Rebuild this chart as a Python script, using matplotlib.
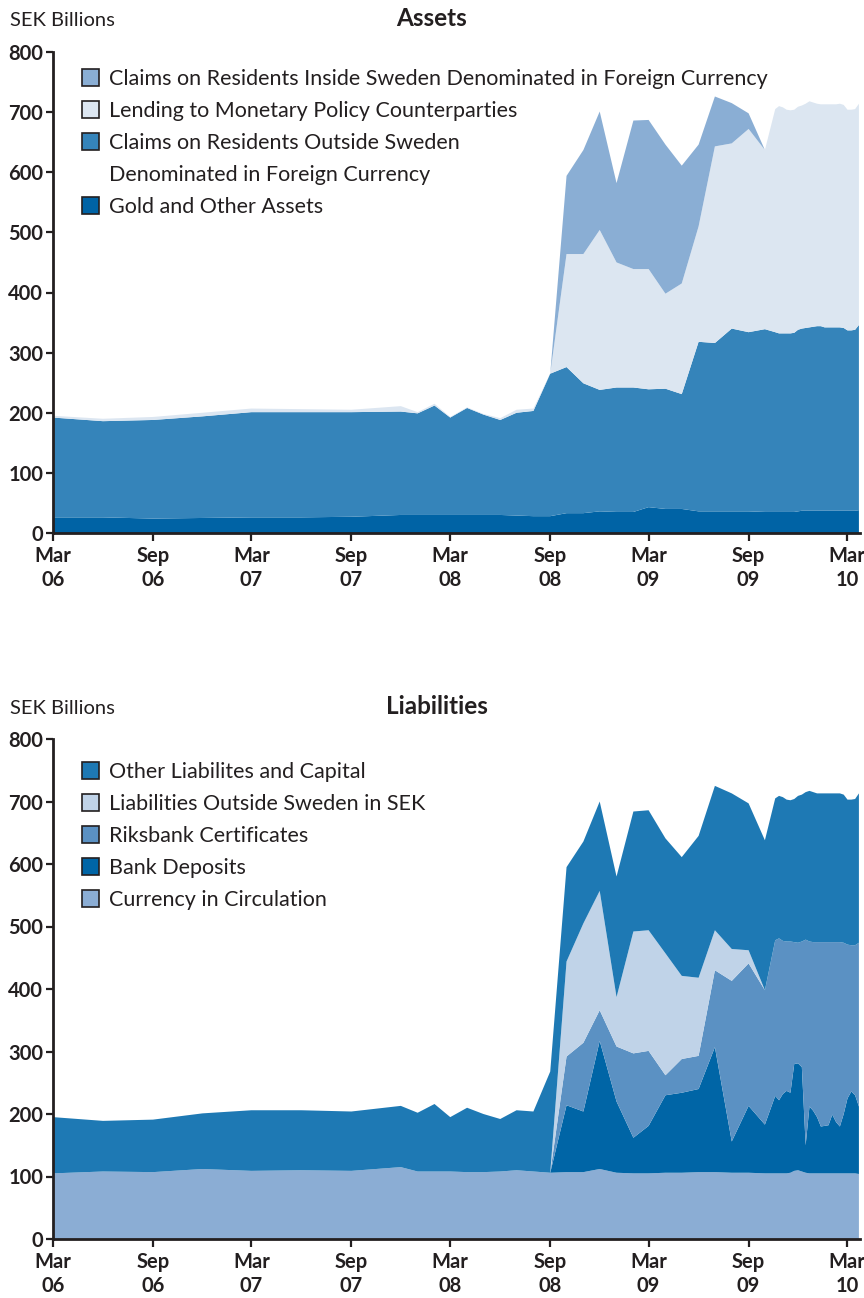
import matplotlib
matplotlib.use("Agg")
import matplotlib.pyplot as plt
import matplotlib.dates as mdates
from matplotlib.patches import Patch
import pandas as pd

plt.rcParams['font.family'] = ['Lato', 'DejaVu Sans']

# ---------------- data ----------------
dates = [
    "2006-03-01", "2006-06-01", "2006-09-01", "2006-12-01",
    "2007-03-01", "2007-06-01", "2007-09-01", "2007-12-01",
    "2008-01-01", "2008-02-01", "2008-03-01", "2008-04-01", "2008-05-01", "2008-06-01",
    "2008-07-01", "2008-08-01", "2008-09-01", "2008-10-01", "2008-11-01", "2008-12-01",
    "2009-01-01", "2009-02-01", "2009-03-01", "2009-04-01", "2009-05-01", "2009-06-01",
    "2009-07-01", "2009-08-01", "2009-09-01", "2009-10-01",
    "2009-10-20", "2009-10-27", "2009-11-03", "2009-11-10", "2009-11-17", "2009-11-24",
    "2009-12-01", "2009-12-08", "2009-12-15", "2009-12-22", "2009-12-29",
    "2010-01-05", "2010-01-12", "2010-01-19", "2010-01-26",
    "2010-02-02", "2010-02-09", "2010-02-16", "2010-02-23",
    "2010-03-02", "2010-03-09", "2010-03-16", "2010-03-23",
]

# Assets (SEK billions)
gold_other = [26, 26, 24, 25, 26, 26, 27, 30,
              30, 30, 30, 30, 30, 30, 29, 28, 28, 33, 33, 36,
              35, 35, 43, 40, 40, 36, 36, 36, 36, 35,
              35, 35, 35, 35, 35, 35, 36, 37, 37, 37, 37,
              37, 37, 37, 37, 37, 37, 37, 37, 37, 37, 37, 38]
claims_outside = [166, 160, 164, 169, 175, 175, 174, 172,
                  169, 182, 162, 178, 167, 158, 171, 175, 237, 243, 216, 202,
                  207, 207, 196, 200, 191, 282, 280, 304, 298, 304,
                  299, 297, 297, 297, 297, 298, 302, 303, 304, 305, 306,
                  307, 307, 305, 305, 305, 305, 305, 304, 300, 300, 301, 308]
lending_mp = [3, 4, 5, 6, 6, 5, 4, 9,
              2, 3, 1, 1, 1, 3, 5, 4, 0, 188, 215, 266,
              208, 197, 200, 158, 184, 192, 327, 308, 338, 298,
              371, 378, 376, 372, 371, 371, 371, 371, 373, 376, 373,
              370, 369, 371, 371, 371, 371, 372, 371, 367, 367, 367, 368]
claims_inside = [0, 0, 0, 0, 0, 0, 0, 0,
                 0, 0, 0, 0, 0, 0, 0, 0, 0, 130, 173, 197,
                 132, 247, 248, 248, 196, 136, 83, 67, 26, 0,
                 0, 0, 0, 0, 0, 0, 0, 0, 0, 0, 0,
                 0, 0, 0, 0, 0, 0, 0, 0, 0, 0, 0, 0]

# Liabilities (SEK billions)
currency = [105, 108, 107, 112, 109, 110, 109, 115,
            108, 108, 108, 107, 107, 108, 110, 108, 106, 107, 107, 112,
            106, 105, 105, 106, 106, 107, 107, 106, 106, 105,
            105, 105, 105, 105, 106, 109, 110, 108, 106, 105, 105,
            105, 105, 105, 105, 105, 105, 105, 105, 105, 105, 105, 104]
bank_deposits = [0, 0, 0, 0, 0, 0, 0, 0,
                 0, 0, 0, 0, 0, 0, 0, 0, 0, 107, 97, 205,
                 114, 57, 76, 124, 128, 133, 200, 50, 107, 78,
                 124, 117, 127, 132, 128, 171, 171, 167, 44, 107, 100,
                 90, 75, 76, 77, 94, 82, 75, 95, 120, 131, 125, 108]
riksbank_certs = [0, 0, 0, 0, 0, 0, 0, 0,
                  0, 0, 0, 0, 0, 0, 0, 0, 0, 78, 110, 49,
                  88, 135, 120, 32, 54, 53, 123, 257, 228, 215,
                  249, 259, 245, 239, 242, 195, 193, 201, 329, 264, 270,
                  280, 295, 294, 293, 276, 288, 295, 274, 246, 234, 240, 262]
outside_sek = [0, 0, 0, 0, 0, 0, 0, 0,
               0, 0, 0, 0, 0, 0, 0, 0, 0, 152, 191, 191,
               79, 195, 193, 195, 133, 125, 64, 51, 21, 0,
               0, 0, 0, 0, 0, 0, 0, 0, 0, 0, 0,
               0, 0, 0, 0, 0, 0, 0, 0, 0, 0, 0, 0]
other_liab = [90, 81, 84, 89, 97, 96, 95, 98,
              94, 108, 87, 103, 93, 84, 96, 96, 162, 151, 131, 143,
              193, 192, 192, 184, 190, 227, 231, 249, 235, 240,
              227, 228, 230, 227, 226, 229, 235, 235, 236, 241, 240,
              238, 238, 238, 238, 238, 238, 238, 237, 232, 233, 234, 239]

tick_dates = ["2006-03-01", "2006-09-01", "2007-03-01", "2007-09-01", "2008-03-01",
              "2008-09-01", "2009-03-01", "2009-09-01", "2010-03-01"]
tick_labels = ["Mar\n06", "Sep\n06", "Mar\n07", "Sep\n07", "Mar\n08",
               "Sep\n08", "Mar\n09", "Sep\n09", "Mar\n10"]
y_ticks = [0, 100, 200, 300, 400, 500, 600, 700, 800]

asset_labels = ["Claims on Residents Inside Sweden Denominated in Foreign Currency",
                "Lending to Monetary Policy Counterparties",
                "Claims on Residents Outside Sweden",
                "Denominated in Foreign Currency",
                "Gold and Other Assets"]
liab_labels = ["Other Liabilites and Capital",
               "Liabilities Outside Sweden in SEK",
               "Riksbank Certificates",
               "Bank Deposits",
               "Currency in Circulation"]

# ---------------- styling ----------------
TXT = '#231F20'
c_gold = '#0063A5'
c_out = '#3584BA'
c_lend = '#DCE6F1'
c_in = '#8AAED4'

c_cur = '#8BADD4'
c_dep = '#0065A6'
c_cert = '#5B91C3'
c_osek = '#C0D3E8'
c_oth = '#1E79B4'

x = pd.to_datetime(dates)
xt = pd.to_datetime(tick_dates)
xlim = (pd.Timestamp("2006-03-01"), pd.Timestamp("2010-03-25"))

W, H = 864, 1298
fig = plt.figure(figsize=(W / 100, H / 100), dpi=100)


def make_axes(top_px, bottom_px):
    left, right = 53, 860
    return fig.add_axes([left / W, 1 - bottom_px / H, (right - left) / W, (bottom_px - top_px) / H])


def style_axes(ax):
    ax.set_xlim(*xlim)
    ax.set_ylim(0, 800)
    ax.set_yticks(y_ticks)
    ax.set_yticklabels([str(v) for v in y_ticks], fontsize=14.5, fontweight='bold', color=TXT)
    ax.set_xticks(xt)
    ax.set_xticklabels(tick_labels, fontsize=14.5, fontweight='bold', color=TXT, linespacing=1.25)
    for s in ['top', 'right']:
        ax.spines[s].set_visible(False)
    for s in ['left', 'bottom']:
        ax.spines[s].set_linewidth(2)
        ax.spines[s].set_color(TXT)
    ax.tick_params(axis='y', length=5, width=1.6, color=TXT, pad=2)
    ax.tick_params(axis='x', length=6, width=1.6, color=TXT, pad=3)
    ax.set_facecolor('none')


def add_legend(ax, colors, labels, top_offset_px, handle_x_px, ax_h_px):
    handles = []
    for c in colors:
        if c is None:
            handles.append(Patch(facecolor='none', edgecolor='none'))
        else:
            handles.append(Patch(facecolor=c, edgecolor=TXT, linewidth=1.2))
    leg = ax.legend(handles, labels, loc='upper left',
                    bbox_to_anchor=((handle_x_px - 53) / 807, 1 - top_offset_px / ax_h_px),
                    frameon=False, fontsize=15.5, handlelength=0.8, handleheight=0.8,
                    handletextpad=0.45, labelspacing=0.555, borderpad=0, borderaxespad=0)
    for t in leg.get_texts():
        t.set_color(TXT)
    return leg


# ---------------- Assets ----------------
ax1 = make_axes(52, 533)
ax1.stackplot(x, gold_other, claims_outside, lending_mp, claims_inside,
              colors=[c_gold, c_out, c_lend, c_in], linewidth=0)
style_axes(ax1)
add_legend(ax1, [c_in, c_lend, c_out, None, c_gold], asset_labels, 17, 82, 481)
fig.text(10 / W, 1 - 20 / H, "SEK Billions", fontsize=14.5, color=TXT, va='center', ha='left')
fig.text(432 / W, 1 - 18 / H, "Assets", fontsize=17.5, fontweight='bold', color=TXT,
         va='center', ha='center')

# ---------------- Liabilities ----------------
ax2 = make_axes(739, 1239)
ax2.stackplot(x, currency, bank_deposits, riksbank_certs, outside_sek, other_liab,
              colors=[c_cur, c_dep, c_cert, c_osek, c_oth], linewidth=0)
style_axes(ax2)
add_legend(ax2, [c_oth, c_osek, c_cert, c_dep, c_cur], liab_labels, 23, 82, 500)
fig.text(10 / W, 1 - 708 / H, "SEK Billions", fontsize=14.5, color=TXT, va='center', ha='left')
fig.text(437 / W, 1 - 706 / H, "Liabilities", fontsize=17.5, fontweight='bold', color=TXT,
         va='center', ha='center')

fig.savefig("out.png", dpi=100)
